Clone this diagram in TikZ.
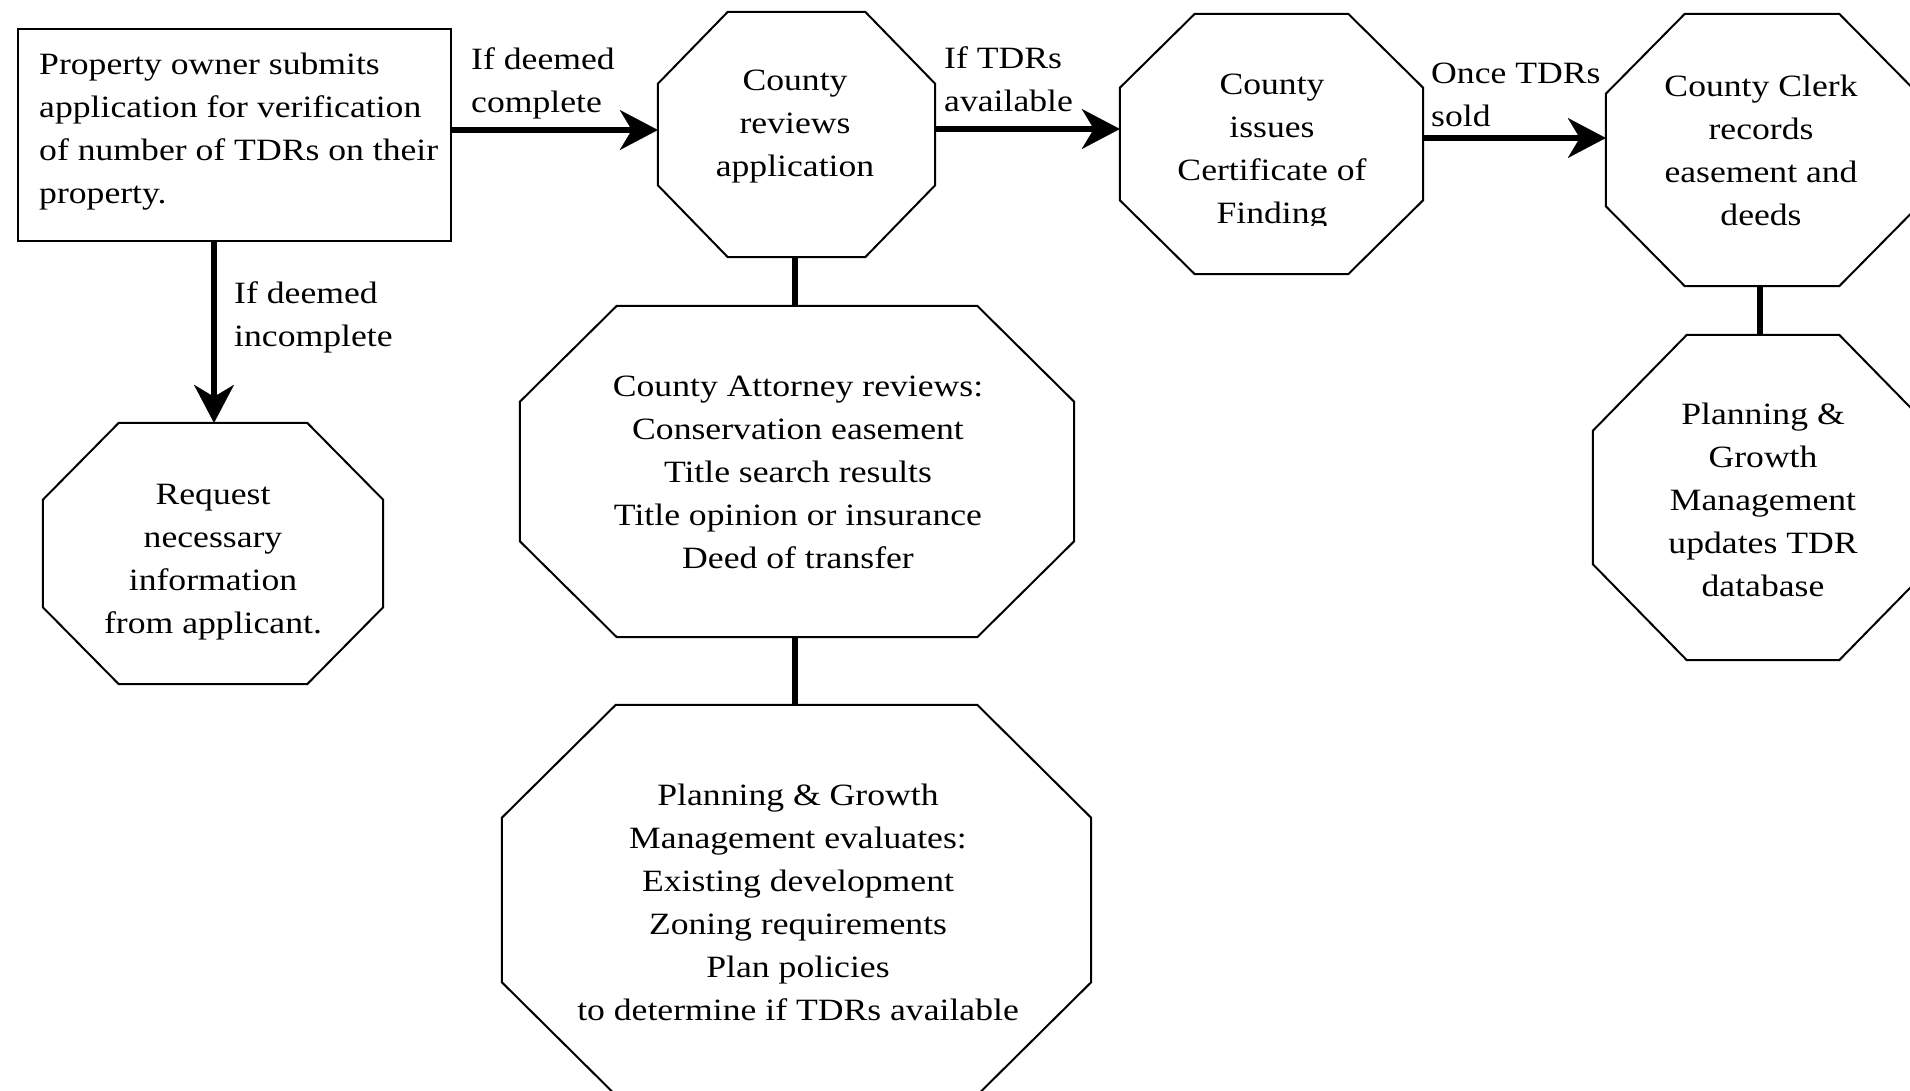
\documentclass[tikz,border=0pt]{standalone}
\usepackage{fontspec}
\setmainfont[FakeStretch=1.15]{Liberation Serif}
\usetikzlibrary{arrows.meta}
\tikzset{
  txt/.style={font=\fontsize{31}{43}\selectfont, inner sep=0pt, align=center},
  ltxt/.style={font=\fontsize{31}{43}\selectfont, inner sep=0pt, align=left, anchor=west},
  bbox/.style 2 args={draw=none, inner sep=0pt, minimum width=#1, minimum height=#2},
  boxline/.style={draw, line width=2pt, inner sep=0pt},
  octline/.style={line width=2pt, line join=miter},
  arr/.style={line width=6.5pt, -{Stealth[length=38pt,width=40pt,inset=12pt,line width=0.1pt]}},
  link/.style={line width=6.5pt}
}
\newcommand\octo[3]{\draw[octline] ([xshift=#2]#1.north west) -- ([xshift=-#2]#1.north east) -- ([yshift=-#3]#1.north east) -- ([yshift=#3]#1.south east) -- ([xshift=-#2]#1.south east) -- ([xshift=#2]#1.south west) -- ([yshift=#3]#1.south west) -- ([yshift=-#3]#1.north west) -- cycle;}
\begin{document}
\begin{tikzpicture}[x=1pt,y=-1pt]
\useasboundingbox (0,0) rectangle (1910,1091);
\clip (0,0) rectangle (1910,1091);
% boxes
\node[boxline, minimum width=433pt, minimum height=212pt] (rect) at (234.5,135) {};
\node[bbox={277pt}{245pt}] (oc1) at (796.5,134.5) {};
\node[bbox={303pt}{260pt}] (oc2) at (1271.5,144) {};
\node[bbox={312pt}{272pt}] (oc3) at (1762,150) {};
\node[bbox={340pt}{325pt}] (oc4) at (1763,497.5) {};
\node[bbox={340pt}{261pt}] (oc5) at (213,553.5) {};
\node[bbox={554pt}{331pt}] (oc6) at (797,471.5) {};
\node[bbox={589pt}{390pt}] (oc7) at (796.5,900) {};
\octo{oc1}{70pt}{72pt}
\octo{oc2}{75pt}{74pt}
\octo{oc3}{79pt}{80pt}
\octo{oc4}{94pt}{96pt}
\octo{oc5}{76pt}{77pt}
\octo{oc6}{97pt}{96pt}
\octo{oc7}{114pt}{113pt}
% texts
\node[ltxt] (t0) at (39,132) {Property owner submits\\application for verification\\of number of TDRs on their\\property.};
\node[txt] (t1) at (795,126.5) {County\\reviews\\application};
\begin{scope}
\clip (1100,0) rectangle (1450,226);
\node[txt] (t2) at (1272,152) {County\\issues\\Certificate of\\Finding};
\end{scope}
\node[txt] (t3) at (1761,150) {County Clerk\\records\\easement and\\deeds};
\node[txt] (t4) at (1763,500) {Planning \&\\Growth\\Management\\updates TDR\\database};
\node[txt] (t5) at (213,562) {Request\\necessary\\information\\from applicant.};
\node[txt] (t6) at (798,472) {County Attorney reviews:\\Conservation easement\\Title search results\\Title opinion or insurance\\Deed of transfer};
\node[txt] (t7) at (798,902) {Planning \& Growth\\Management evaluates:\\Existing development\\Zoning requirements\\Plan policies\\to determine if TDRs available};
% labels
\node[ltxt] (l1) at (471,83) {If deemed\\complete};
\node[ltxt] (l2) at (944,79) {If TDRs\\available};
\node[ltxt] (l3) at (1431,95) {Once TDRs\\sold};
\node[ltxt] (l4) at (234,317) {If deemed\\incomplete};
% connectors
\draw[arr] (rect.east |- 0,130) -- (oc1.west |- 0,130);
\draw[arr] (oc1.east |- 0,129) -- (oc2.west |- 0,129);
\draw[arr] (oc2.east |- 0,138) -- (oc3.west |- 0,138);
\draw[arr] (rect.south -| 214,0) -- (oc5.north -| 214,0);
\draw[link] (oc1.south -| 795,0) -- (oc6.north -| 795,0);
\draw[link] (oc6.south -| 795,0) -- (oc7.north -| 795,0);
\draw[link] (oc3.south -| 1760,0) -- (oc4.north -| 1760,0);
\end{tikzpicture}
\end{document}
